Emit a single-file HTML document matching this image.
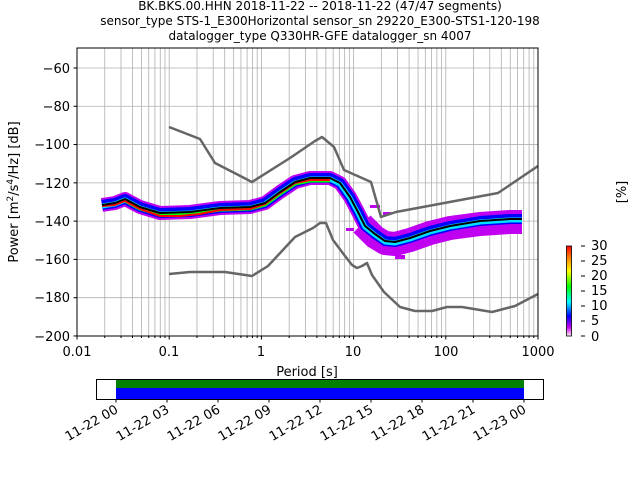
<!DOCTYPE html>
<html><head><style>body{margin:0;background:#fff}svg{display:block}</style></head><body>
<svg width="640" height="480" xmlns="http://www.w3.org/2000/svg" font-family="DejaVu Sans, Liberation Sans, sans-serif">
<defs>
<linearGradient id="cb" x1="0" y1="1" x2="0" y2="0">
<stop offset="0" stop-color="#ffffff"/><stop offset="0.03" stop-color="#f0a0f0"/><stop offset="0.1" stop-color="#c000f0"/><stop offset="0.22" stop-color="#0000ff"/><stop offset="0.38" stop-color="#00ffff"/><stop offset="0.55" stop-color="#00ff00"/><stop offset="0.72" stop-color="#ffff00"/><stop offset="0.87" stop-color="#ff8000"/><stop offset="1" stop-color="#ff0000"/>
</linearGradient>
<clipPath id="ax"><rect x="77" y="48" width="461" height="288"/></clipPath>
</defs>
<g font-size="12" text-anchor="middle" fill="#000">
<text x="320" y="10">BK.BKS.00.HHN   2018-11-22 -- 2018-11-22  (47/47 segments)</text>
<text x="320" y="25">sensor_type STS-1_E300Horizontal sensor_sn 29220_E300-STS1-120-198</text>
<text x="320" y="40">datalogger_type Q330HR-GFE datalogger_sn 4007</text>
</g>
<g stroke="#b0b0b0" stroke-width="0.8" id="grid"></g>
<g clip-path="url(#ax)" fill="none" stroke-linejoin="round" stroke-linecap="butt">
<polyline stroke="#c000f0" stroke-width="24" points="362,224 375,237 385,243 395,244 410,240 430,233 450,228 480,224 510,222 522,222"/>
<g fill="#c000f0" stroke="none"><rect x="370" y="205" width="10" height="3"/><rect x="383" y="212" width="8" height="3"/><rect x="395" y="255" width="10" height="4"/><rect x="346" y="228" width="8" height="3"/></g>
<polyline stroke="#c000f0" stroke-width="14" points="102,205 115,203 125,199 140,207 160,213 190,212 220,208 250,207 265,203 280,192 295,182 310,178 330,178 340,183 350,197 358,212 365,226 375,234 385,241 395,242 410,238 430,231 450,226 480,221 510,219 522,219"/>
<polyline stroke="#0000ff" stroke-width="10" points="102,205 115,203 125,199 140,207 160,213 190,212 220,208 250,207 265,203 280,192 295,182 310,178 330,178 340,183 350,197 358,212 365,226 375,234 385,241 395,242 410,238 430,231 450,226 480,221 510,219 522,219"/>
<polyline stroke="#00e0ff" stroke-width="5" points="102,206 115,204 125,200 140,208 160,214 190,213 220,209 250,208 265,204 280,193 295,183 310,179 330,179 340,184 350,198 358,213 365,227 375,235 385,242 395,243 410,239 430,232 450,227 480,222 510,220 522,220"/>
<polyline stroke="#00ff00" stroke-width="3" points="125,201 140,209 160,215 190,214 220,210 250,209 265,205 280,194 295,184 310,181 330,181"/>
<polyline stroke="#ff0000" stroke-width="2" points="102,206 115,205 125,201 140,209 160,216 180,216 200,214 220,210 250,209 265,204 280,193 295,183 310,180 330,180"/>
<polyline stroke="#000" stroke-width="2" points="102,205 115,203 125,199 140,207 160,213 190,212 220,208 250,207 265,203 280,192 295,182 310,178 330,178 340,183 350,197 358,212 365,226 375,234 385,241 395,242 410,238 430,231 450,226 480,221 510,219 522,219"/>
<polyline stroke="#666" stroke-width="2.5" points="169,127 200,139 215,163 252,182 290,158 315,141 322,137 334,147 344,170 371,182 381,217 396,212 498,193 538,166"/>
<polyline stroke="#666" stroke-width="2.5" points="169,274 190,272 225,272 252,276 268,266 295,237 313,228 320,223 326,223 333,240 345,256 352,265 357,268 362,266 367,263 372,275 384,292 400,307 415,311 432,311 447,307 462,307 492,312 515,306 538,294"/>
</g>
<rect x="77" y="48" width="461" height="288" fill="none" stroke="#000" stroke-width="1"/>
<g id="ticks" stroke="#000"></g>
<g font-size="13" text-anchor="end">
<text x="70" y="73">−60</text><text x="70" y="111">−80</text><text x="70" y="149">−100</text><text x="70" y="188">−120</text><text x="70" y="226">−140</text><text x="70" y="264">−160</text><text x="70" y="302">−180</text><text x="70" y="341">−200</text>
</g>
<g font-size="13" text-anchor="middle">
<text x="77" y="356">0.01</text><text x="169" y="356">0.1</text><text x="261" y="356">1</text><text x="353" y="356">10</text><text x="446" y="356">100</text><text x="538" y="356">1000</text>
<text x="307" y="376">Period [s]</text>
</g>
<text transform="translate(18,192) rotate(-90)" font-size="13" text-anchor="middle">Power [m<tspan font-size="9" dy="-5">2</tspan><tspan dy="5">/s</tspan><tspan font-size="9" dy="-5">4</tspan><tspan dy="5">/Hz] [dB]</tspan></text>
<rect x="566.5" y="246" width="5" height="90" fill="url(#cb)" stroke="#000" stroke-width="0.8"/>
<g font-size="13">
<text x="591" y="250">30</text><text x="591" y="265">25</text><text x="591" y="280">20</text><text x="591" y="295">15</text><text x="591" y="310">10</text><text x="591" y="325">5</text><text x="591" y="341">0</text>
</g>
<g stroke="#000"><line x1="581" y1="246" x2="585" y2="246"/><line x1="581" y1="261" x2="585" y2="261"/><line x1="581" y1="276" x2="585" y2="276"/><line x1="581" y1="291" x2="585" y2="291"/><line x1="581" y1="306" x2="585" y2="306"/><line x1="581" y1="321" x2="585" y2="321"/><line x1="581" y1="336" x2="585" y2="336"/></g>
<text transform="translate(626,192) rotate(-90)" font-size="13" text-anchor="middle">[%]</text>
<rect x="116" y="379.5" width="408" height="8.5" fill="#008000"/>
<rect x="116" y="388" width="408" height="11" fill="#0000ff"/>
<rect x="96.5" y="379.5" width="447" height="20" fill="none" stroke="#000"/>
<g id="tl" font-size="13"></g>
<script>
var g=document.getElementById('grid'),t=document.getElementById('ticks'),ns='http://www.w3.org/2000/svg';
function L(p,x1,y1,x2,y2){var l=document.createElementNS(ns,'line');l.setAttribute('x1',x1);l.setAttribute('y1',y1);l.setAttribute('x2',x2);l.setAttribute('y2',y2);p.appendChild(l);}
for(var d=-2;d<3;d++)for(var m=1;m<10;m++){var x=77+(d+2+Math.log10(m))*92.2;L(g,x,48,x,336);L(t,x,336,x,m==1?339.5:338);}
L(t,538,336,538,339.5);
for(var v=-60;v>=-200;v-=20){var y=68+(-60-v)*1.914;L(g,77,y,538,y);L(t,73.5,y,77,y);}
var tl=document.getElementById('tl'),lab=['11-22 00','11-22 03','11-22 06','11-22 09','11-22 12','11-22 15','11-22 18','11-22 21','11-23 00'];
for(var i=0;i<9;i++){var x=116+i*51;L(t,x,399,x,402.5);var s=document.createElementNS(ns,'text');s.setAttribute('text-anchor','end');s.setAttribute('transform','translate('+(x+3)+',412) rotate(-30)');s.textContent=lab[i];tl.appendChild(s);}
</script>
</svg>
</body></html>
